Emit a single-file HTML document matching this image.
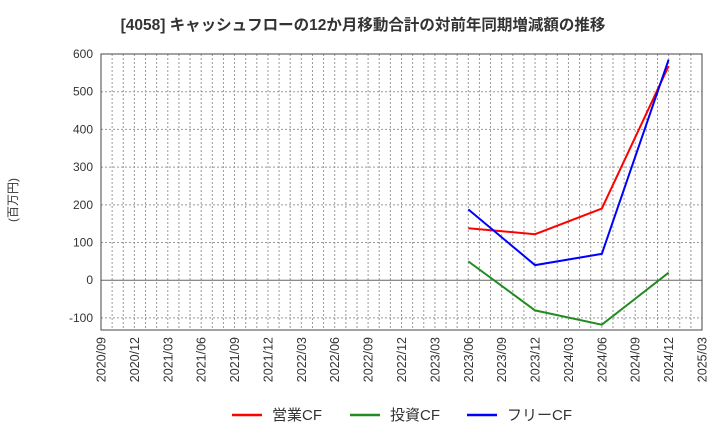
<!DOCTYPE html>
<html><head><meta charset="utf-8"><style>
body{margin:0;background:#fff;}
svg{display:block;font-family:"Liberation Sans","Noto Sans CJK JP",sans-serif;}
</style></head><body>
<svg id="c" width="720" height="440">
<text x="363" y="30" text-anchor="middle" font-size="15.5" font-weight="bold" fill="#333">[4058]  キャッシュフローの12か月移動合計の対前年同期増減額の推移</text>
<text transform="translate(17,200) rotate(-90)" text-anchor="middle" font-size="12" fill="#333">(百万円)</text>
<g id="grid"></g><g id="series"></g><g id="axes"></g>
<g>
<line x1="232" y1="415" x2="262" y2="415" stroke="#f00" stroke-width="2.5"/>
<text x="272" y="420" font-size="15" fill="#333">営業CF</text>
<line x1="350" y1="415" x2="380" y2="415" stroke="#228b22" stroke-width="2.5"/>
<text x="390" y="420" font-size="15" fill="#333">投資CF</text>
<line x1="467" y1="415" x2="497" y2="415" stroke="#00f" stroke-width="2.5"/>
<text x="507" y="420" font-size="15" fill="#333">フリーCF</text>
</g>
</svg>
<script>
const xLabels=["2020/09","2020/12","2021/03","2021/06","2021/09","2021/12","2022/03","2022/06","2022/09","2022/12","2023/03","2023/06","2023/09","2023/12","2024/03","2024/06","2024/09","2024/12","2025/03"];
const yTicks=[-100,0,100,200,300,400,500,600];
const dataIdx=[11,13,15,17];
const opCF=[138,122,190,568];
const invCF=[50,-80,-118,20];
const freeCF=[188,40,70,585];
const L=101,R=702,T=54,B=330,yMin=-132,yMax=600;
const NS="http://www.w3.org/2000/svg";
const xs=i=>L+(R-L)*i/(xLabels.length-1);
const ys=v=>B-(B-T)*(v-yMin)/(yMax-yMin);
function mk(tag,attrs,parent){const e=document.createElementNS(NS,tag);for(const k in attrs)e.setAttribute(k,attrs[k]);parent.appendChild(e);return e;}
const grid=document.getElementById('grid'),axes=document.getElementById('axes'),ser=document.getElementById('series');
for(let m=1;m<(xLabels.length-1)*3;m++){const x=L+(R-L)*m/((xLabels.length-1)*3);
const g=mk('line',{x1:x,y1:T,x2:x,y2:B,stroke:'#999','stroke-width':1,'stroke-dasharray':'2,2'},grid);

}
yTicks.forEach(v=>{const y=ys(v);
const g=mk('line',{x1:L,y1:y,x2:R,y2:y,stroke:v===0?'#666':'#999','stroke-width':1,'stroke-dasharray':v===0?'none':'2,2'},grid);


const t=mk('text',{x:L-8,y:y+4,'text-anchor':'end','font-size':12,fill:'#333'},axes);t.textContent=v;

});
const fr=mk('rect',{x:L,y:T,width:R-L,height:B-T,fill:'none',stroke:'#444','stroke-width':1},axes);


xLabels.forEach((s,i)=>{const x=xs(i);
const t=mk('text',{transform:`translate(${x+4.5},337) rotate(-90)`,'text-anchor':'end','font-size':12.5,fill:'#333'},axes);t.textContent=s;

});
function line(vals,color,name){const p=vals.map((v,i)=>xs(dataIdx[i])+','+ys(v)).join(' ');
const e=mk('polyline',{points:p,fill:'none',stroke:color,'stroke-width':2},ser);

}
line(opCF,'#f00','operating-cf-line');
line(invCF,'#228b22','investing-cf-line');
line(freeCF,'#00f','free-cf-line');
</script>
</body></html>
